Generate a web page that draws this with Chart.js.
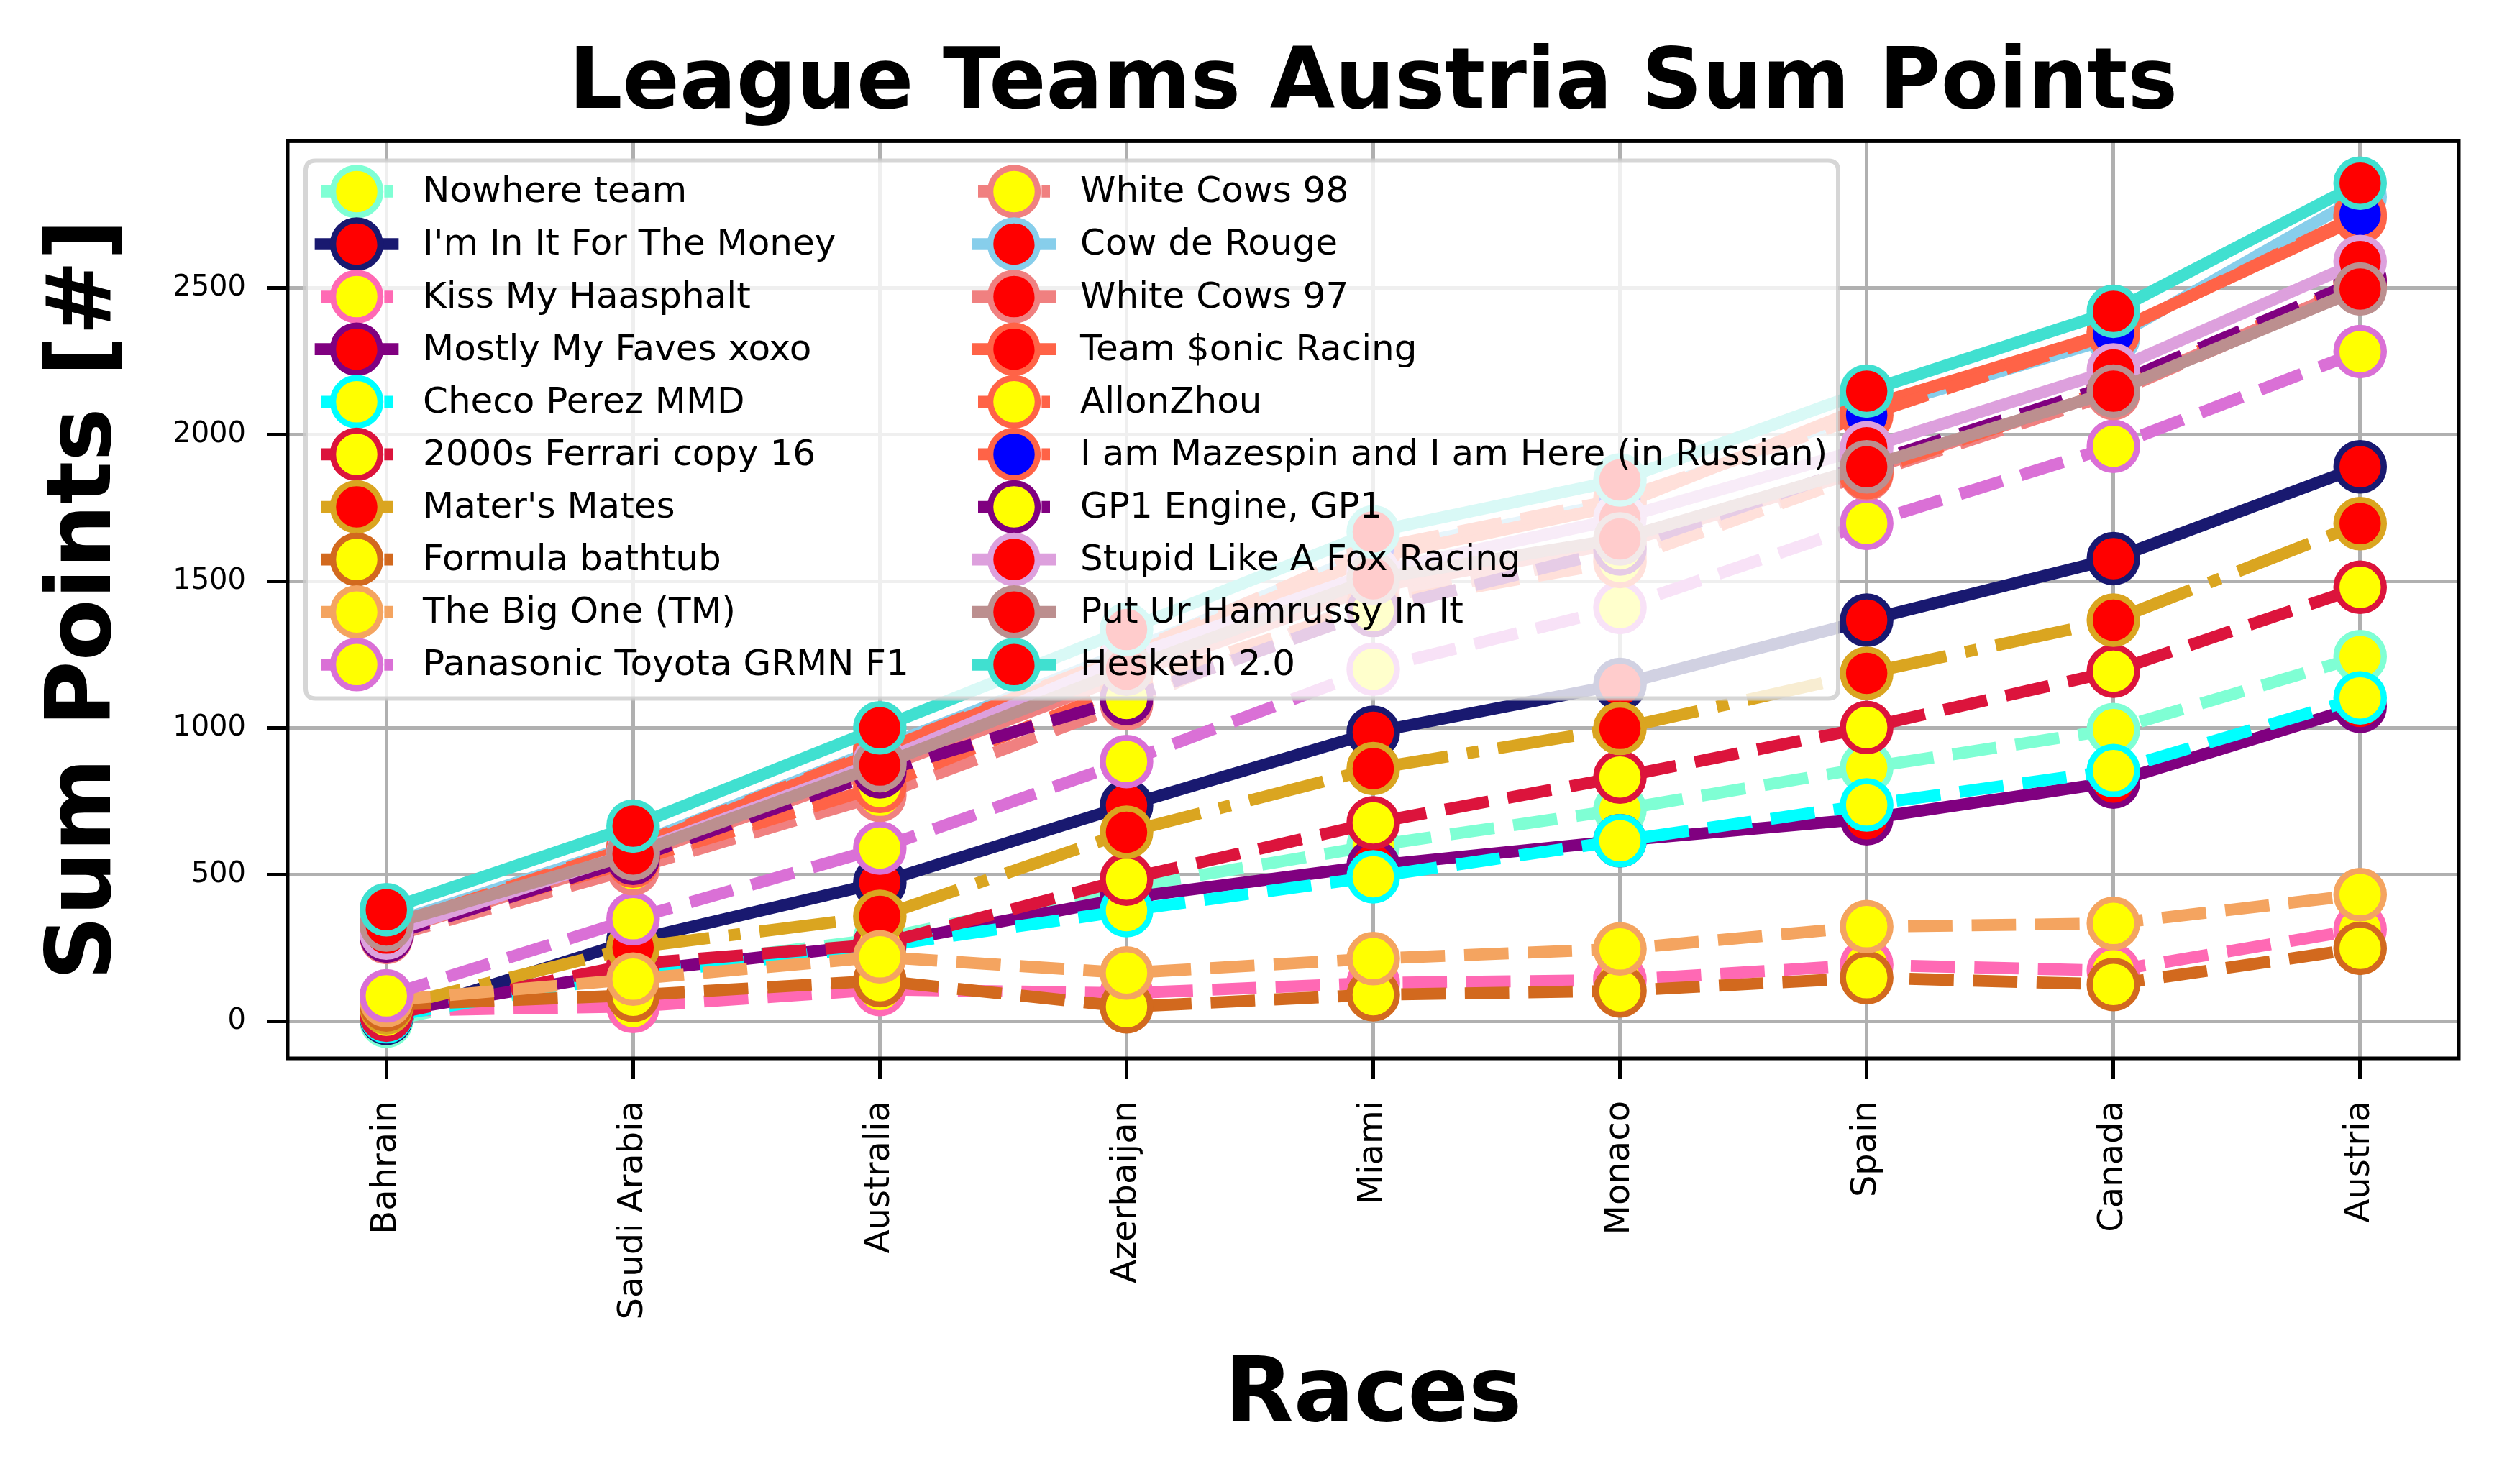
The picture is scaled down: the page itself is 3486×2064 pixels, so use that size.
<!DOCTYPE html>
<html>
<head>
<meta charset="utf-8">
<script src="https://cdn.jsdelivr.net/npm/chart.js@4.4.1/dist/chart.umd.min.js"></script>
<style>
html,body{margin:0;padding:0;background:#ffffff;}
#wrap{width:3486px;height:2064px;position:relative;}
canvas{display:block;}
</style>
</head>
<body>
<div id="wrap"><canvas id="c" width="3486" height="2064"></canvas></div>
<script>
// ---------- data ----------
const races = ['Bahrain','Saudi Arabia','Australia','Azerbaijan','Miami','Monaco','Spain','Canada','Austria'];
const yTickValues = [0, 500, 1000, 1500, 2000, 2500];

const teamNames = [
  'Nowhere team', "I'm In It For The Money", 'Kiss My Haasphalt', 'Mostly My Faves xoxo',
  'Checo Perez MMD', '2000s Ferrari copy 16', "Mater's Mates", 'Formula bathtub',
  'The Big One (TM)', 'Panasonic Toyota GRMN F1', 'White Cows 98', 'Cow de Rouge',
  'White Cows 97', 'Team $onic Racing', 'AllonZhou', 'I am Mazespin and I am Here (in Russian)',
  'GP1 Engine, GP1', 'Stupid Like A Fox Racing', 'Put Ur Hamrussy In It', 'Hesketh 2.0'
];

const nowhereTeam      = [0, 175, 280, 455, 598, 721, 864, 994, 1243];
const imInItForMoney   = [10, 275, 472, 735, 985, 1148, 1367, 1577, 1890];
const kissMyHaasphalt  = [35, 50, 108, 95, 130, 140, 192, 172, 313];
const mostlyMyFaves    = [30, 170, 262, 420, 530, 615, 690, 815, 1073];
const checoPerez       = [15, 160, 255, 377, 492, 615, 737, 854, 1102];
const ferrariCopy16    = [20, 195, 262, 484, 676, 832, 1001, 1193, 1479];
const matersMates      = [45, 251, 357, 644, 861, 998, 1186, 1367, 1696];
const formulaBathtub   = [55, 88, 138, 49, 90, 103, 148, 125, 248];
const theBigOne        = [70, 143, 219, 164, 213, 246, 322, 333, 431];
const panasonicToyota  = [86, 349, 590, 885, 1200, 1410, 1697, 1960, 2283];
const whiteCows98      = [285, 520, 770, 1082, 1440, 1590, 1865, 2140, 2505];
const cowDeRouge       = [330, 600, 930, 1260, 1600, 1770, 2080, 2330, 2810];
const whiteCows97      = [300, 560, 860, 1180, 1480, 1630, 1880, 2150, 2510];
const teamSonic        = [315, 590, 920, 1245, 1580, 1760, 2095, 2350, 2740];
const allonZhou        = [300, 545, 800, 1140, 1420, 1567, 1870, 2160, 2520];
const mazespin         = [320, 595, 925, 1250, 1610, 1780, 2066, 2345, 2750];
const gp1Engine        = [290, 555, 850, 1100, 1400, 1610, 1900, 2170, 2526];
const stupidLikeAFox   = [300, 575, 885, 1240, 1530, 1714, 1955, 2220, 2590];
const putUrHamrussy    = [328, 570, 873, 1200, 1508, 1644, 1890, 2148, 2496];
const hesketh          = [380, 665, 1000, 1335, 1668, 1845, 2148, 2420, 2857];

const seriesValues = [
  nowhereTeam, imInItForMoney, kissMyHaasphalt, mostlyMyFaves, checoPerez,
  ferrariCopy16, matersMates, formulaBathtub, theBigOne, panasonicToyota,
  whiteCows98, cowDeRouge, whiteCows97, teamSonic, allonZhou,
  mazespin, gp1Engine, stupidLikeAFox, putUrHamrussy, hesketh
];

// ---------- styles ----------
const lineColors = ['#7fffd4','#191970','#ff69b4','#800080','#00ffff','#dc143c','#daa520','#d2691e','#f4a460','#da70d6',
                    '#f08080','#87ceeb','#f08080','#ff6347','#ff6347','#ff6347','#800080','#dda0dd','#bc8f8f','#40e0d0'];
const faceColors = ['#ffff00','#ff0000','#ffff00','#ff0000','#ffff00','#ffff00','#ff0000','#ffff00','#ffff00','#ffff00',
                    '#ffff00','#ff0000','#ff0000','#ff0000','#ffff00','#0000ff','#ffff00','#ff0000','#ff0000','#ff0000'];
const lineStyles = ['--','-','--','-','--','--','-.','--','--','--',
                    '--','-','-','-','--','--','--','-','-','-'];

const LW = 16.7;
const dashFor = s => s === '--' ? [61.7, 26.7] : (s === '-.' ? [106.7, 26.7, 16.7, 26.7] : []);
const FONT = 'DejaVu Sans';

const datasets = seriesValues.map((vals, i) => ({
  label: teamNames[i],
  data: vals.map((v, k) => ({x: k, y: v})),
  borderColor: lineColors[i],
  backgroundColor: faceColors[i],
  borderWidth: LW,
  borderDash: dashFor(lineStyles[i]),
  borderCapStyle: lineStyles[i] === '-' ? 'square' : 'butt',
  borderJoinStyle: 'round',
  pointRadius: 33,
  pointHoverRadius: 33,
  pointBorderWidth: 8.5,
  pointBackgroundColor: faceColors[i],
  pointBorderColor: lineColors[i],
  tension: 0,
  fill: false,
  order: seriesValues.length - i,
  clip: false
}));

// ---------- plugins ----------
const framePlugin = {
  id: 'frame',
  afterDatasetsDraw(chart) {
    const {ctx, chartArea: a} = chart;
    ctx.save();
    ctx.strokeStyle = '#000';
    ctx.lineWidth = 5;
    ctx.setLineDash([]);
    ctx.strokeRect(a.left, a.top, a.right - a.left, a.bottom - a.top);
    ctx.restore();
  }
};

function roundRectPath(ctx, x, y, w, h, r) {
  ctx.beginPath();
  ctx.moveTo(x + r, y);
  ctx.lineTo(x + w - r, y);
  ctx.quadraticCurveTo(x + w, y, x + w, y + r);
  ctx.lineTo(x + w, y + h - r);
  ctx.quadraticCurveTo(x + w, y + h, x + w - r, y + h);
  ctx.lineTo(x + r, y + h);
  ctx.quadraticCurveTo(x, y + h, x, y + h - r);
  ctx.lineTo(x, y + r);
  ctx.quadraticCurveTo(x, y, x + r, y);
  ctx.closePath();
}

const legendPlugin = {
  id: 'mplLegend',
  afterDraw(chart) {
    const {ctx, chartArea: a} = chart;
    const bx = a.left + 25, by = a.top + 27, bw = 2131, bh = 748;
    ctx.save();
    roundRectPath(ctx, bx, by, bw, bh, 14);
    ctx.fillStyle = 'rgba(255,255,255,0.8)';
    ctx.fill();
    ctx.lineWidth = 6;
    ctx.strokeStyle = 'rgba(204,204,204,0.8)';
    ctx.stroke();
    const ds = chart.data.datasets;
    const perCol = Math.ceil(ds.length / 2);
    ds.forEach((d, i) => {
      const col = Math.floor(i / perCol), row = i % perCol;
      const cx = bx + (col === 0 ? 71 : 985);
      const cy = by + 43 + row * 73.1;
      ctx.setLineDash(d.borderDash);
      ctx.lineCap = d.borderCapStyle;
      ctx.strokeStyle = d.borderColor;
      ctx.lineWidth = d.borderWidth;
      ctx.beginPath();
      ctx.moveTo(cx - 50, cy);
      ctx.lineTo(cx + 50, cy);
      ctx.stroke();
      ctx.setLineDash([]);
      ctx.beginPath();
      ctx.arc(cx, cy, d.pointRadius, 0, Math.PI * 2);
      ctx.fillStyle = d.pointBackgroundColor;
      ctx.fill();
      ctx.lineWidth = d.pointBorderWidth;
      ctx.strokeStyle = d.pointBorderColor;
      ctx.stroke();
      ctx.fillStyle = '#000';
      ctx.font = '50px "' + FONT + '"';
      ctx.textBaseline = 'middle';
      ctx.textAlign = 'left';
      ctx.fillText(d.label, cx + 92, cy + 2);
    });
    ctx.restore();
  }
};

// ---------- chart ----------
Chart.defaults.font.family = FONT;
Chart.defaults.color = '#000';

new Chart(document.getElementById('c'), {
  type: 'line',
  data: {datasets},
  plugins: [framePlugin, legendPlugin],
  options: {
    responsive: false,
    animation: false,
    devicePixelRatio: 1,
    events: [],
    layout: {padding: {left: 0, right: 67, top: 0, bottom: 0}},
    plugins: {
      legend: {display: false},
      tooltip: {enabled: false},
      title: {
        display: true,
        text: 'League Teams Austria Sum Points',
        fullSize: false,
        color: '#000',
        font: {family: FONT, size: 117, weight: 'bold'},
        padding: {top: 49, bottom: 7}
      }
    },
    scales: {
      x: {
        type: 'linear',
        min: -0.4,
        max: 8.4,
        afterBuildTicks: s => { s.ticks = races.map((r, i) => ({value: i})); },
        afterFit: s => { s.height = 592; },
        ticks: {
          autoSkip: false,
          minRotation: 90,
          maxRotation: 90,
          padding: 30,
          color: '#000',
          font: {family: FONT, size: 48},
          callback: v => races[v]
        },
        grid: {color: '#b0b0b0', lineWidth: 5, tickColor: '#000', tickLength: 29, tickWidth: 5, drawTicks: true},
        border: {display: false},
        title: {
          display: true,
          text: 'Races',
          color: '#000',
          font: {family: FONT, size: 125, weight: 'bold'},
          padding: {top: 0, bottom: 45}
        }
      },
      y: {
        type: 'linear',
        min: -127,
        max: 3000,
        afterBuildTicks: s => { s.ticks = yTickValues.map(v => ({value: v})); },
        afterFit: s => { s.width = 400; },
        ticks: {
          padding: 29,
          color: '#000',
          font: {family: FONT, size: 40},
          callback: v => String(v)
        },
        grid: {color: '#b0b0b0', lineWidth: 5, tickColor: '#000', tickLength: 29, tickWidth: 5, drawTicks: true},
        border: {display: false},
        title: {
          display: true,
          text: 'Sum Points [#]',
          color: '#000',
          font: {family: FONT, size: 125, weight: 'bold'},
          padding: {top: 46, bottom: 0}
        }
      }
    }
  }
});
</script>
</body>
</html>
